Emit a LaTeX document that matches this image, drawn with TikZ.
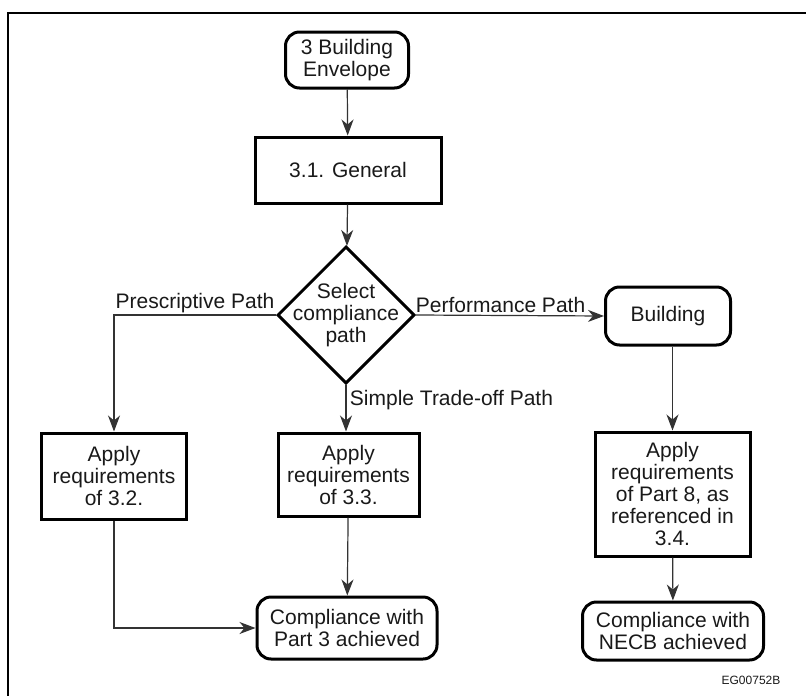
\documentclass[tikz,border=0pt]{standalone}
\usepackage{fontspec}
\setmainfont{Liberation Sans}
\usetikzlibrary{shapes.geometric,arrows.meta}
\begin{document}
\begin{tikzpicture}[x=1pt, y=-1pt,
    every node/.style={font=\fontsize{21}{22}\selectfont, align=center, text=black!90},
    box/.style={draw, line width=3pt, inner sep=0pt},
    rbox/.style={box, rounded corners=14pt},
    arr/.style={line width=1.2pt, draw=black!80, -{Stealth[length=16pt, width=12pt, inset=5pt]}},
    lbl/.style={inner sep=2pt}]
  \useasboundingbox (0, 0) rectangle (806, 696);
  \draw[line width=2pt] (8, 696) -- (8, 13) -- (806, 13);
  \node[rbox, minimum width=123, minimum height=56] (env) at (347, 60) {3 Building\\Envelope};
  \node[box, minimum width=186, minimum height=66] (gen) at (348, 170) {3.1. General};
  \node[box, diamond, minimum width=137, minimum height=137, inner sep=-20pt] (sel) at (346, 315) {Select\\compliance\\path};
  \node[rbox, minimum width=125, minimum height=58] (bld) at (668, 316) {Building};
  \node[box, minimum width=145, minimum height=86] (a32) at (114, 476) {Apply\\requirements\\of 3.2.};
  \node[box, minimum width=141, minimum height=83] (a33) at (348.5, 474.5) {Apply\\requirements\\of 3.3.};
  \node[box, minimum width=155, minimum height=124] (a34) at (672.5, 494) {Apply\\requirements\\of Part 8, as\\referenced in\\3.4.};
  \node[rbox, minimum width=180, minimum height=62] (cp3) at (347, 628) {Compliance with\\Part 3 achieved};
  \node[rbox, minimum width=181, minimum height=58] (cnecb) at (673, 631) {Compliance with\\NECB achieved};
  \node[font=\fontsize{12}{12}\selectfont, inner sep=0pt] (code) at (751, 680) {EG00752B};
  \draw[arr] (env) -- (gen);
  \draw[arr] (gen) -- (sel);
  \draw[arr] (sel.west) -| (a32.north) node[lbl, above, pos=0.25] {Prescriptive Path};
  \draw[arr] (sel.east) -- (bld.west) node[lbl, above, pos=0.45] {Performance Path};
  \draw[arr] (sel.south) -- (sel.south |- a33.north) node[right, pos=0.33] {Simple Trade-off Path};
  \draw[arr] (a34.north |- bld.south) -- (a34.north);
  \draw[arr] (a34) -- (cnecb);
  \draw[arr] (a33) -- (cp3);
  \draw[arr] (a32.south) |- (cp3.west);
\end{tikzpicture}
\end{document}
